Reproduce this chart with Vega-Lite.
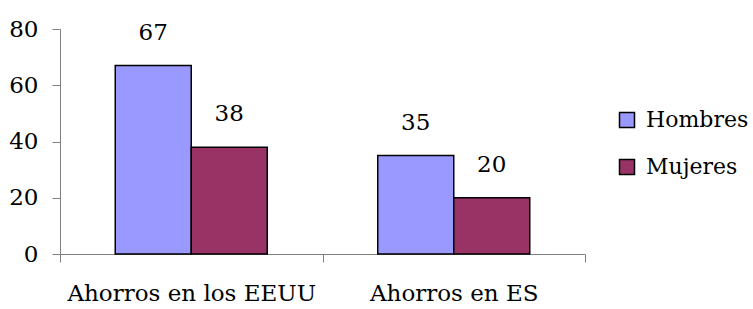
{
  "$schema": "https://vega.github.io/schema/vega-lite/v6.json",
  "width": 525,
  "height": 225,
  "autosize": {"type": "none"},
  "padding": {"left": 60, "top": 29, "right": 168, "bottom": 55},
  "config": {
    "view": {"stroke": null},
    "font": "DejaVu Serif",
    "axis": {
      "labelFont": "DejaVu Serif",
      "labelFontSize": 23,
      "labelColor": "#000000",
      "labelLimit": 400,
      "domainColor": "#808080",
      "tickColor": "#808080",
      "domainWidth": 1,
      "tickWidth": 1,
      "grid": false,
      "title": null
    },
    "legend": {
      "labelFont": "DejaVu Serif",
      "labelFontSize": 22,
      "labelLimit": 300,
      "labelColor": "#000000"
    }
  },
  "data": {
    "values": [
      {"categoria": "Ahorros en los EEUU", "sexo": "Hombres", "valor": 67},
      {"categoria": "Ahorros en los EEUU", "sexo": "Mujeres", "valor": 38},
      {"categoria": "Ahorros en ES", "sexo": "Hombres", "valor": 35},
      {"categoria": "Ahorros en ES", "sexo": "Mujeres", "valor": 20}
    ]
  },
  "encoding": {
    "x": {
      "field": "categoria",
      "type": "nominal",
      "sort": ["Ahorros en los EEUU", "Ahorros en ES"],
      "scale": {"paddingInner": 0, "paddingOuter": 0},
      "axis": {"labelAngle": 0, "tickBand": "extent", "tickSize": 8, "labelPadding": 20}
    },
    "xOffset": {
      "field": "sexo",
      "type": "nominal",
      "sort": ["Hombres", "Mujeres"],
      "scale": {"paddingInner": 0, "paddingOuter": 0.727}
    },
    "y": {
      "field": "valor",
      "type": "quantitative",
      "scale": {"domain": [0, 80], "nice": false},
      "axis": {"values": [0, 20, 40, 60, 80], "tickSize": 8, "labelPadding": 14}
    }
  },
  "layer": [
    {
      "mark": {"type": "bar", "stroke": "#000000", "strokeWidth": 1.5},
      "encoding": {
        "color": {
          "field": "sexo",
          "type": "nominal",
          "sort": ["Hombres", "Mujeres"],
          "scale": {"domain": ["Hombres", "Mujeres"], "range": ["#9999FF", "#993366"]},
          "legend": {
            "title": null,
            "orient": "none",
            "legendX": 556,
            "legendY": 80,
            "symbolType": "square",
            "symbolSize": 225,
            "symbolStrokeColor": "#000000",
            "symbolStrokeWidth": 1.5,
            "symbolOpacity": 1,
            "labelOffset": 8,
            "rowPadding": 25
          }
        }
      }
    },
    {
      "mark": {"type": "text", "fontSize": 23, "font": "DejaVu Serif", "color": "#000000", "baseline": "alphabetic", "dy": -26},
      "encoding": {
        "text": {"field": "valor", "type": "quantitative"}
      }
    }
  ]
}
